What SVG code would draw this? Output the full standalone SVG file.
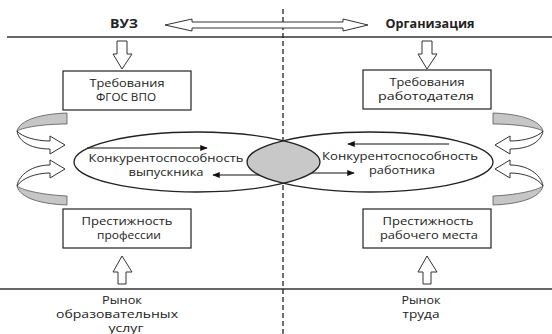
<svg xmlns="http://www.w3.org/2000/svg" width="552" height="334" viewBox="0 0 552 334">
<style>
text{font-family:"Open Sans","Noto Sans","DejaVu Sans",sans-serif;fill:#222;text-anchor:middle}
.t{font-size:11.5px}
.b{font-size:11.5px;font-weight:bold}
.box{fill:#fff;stroke:#222;stroke-width:1.2}
.ln{stroke:#333;stroke-width:1.4;fill:none}
.blk{fill:#fff;stroke:#333;stroke-width:1}
.gray{fill:#c6c6c6;stroke:#555;stroke-width:0.8}
.ar{stroke:#111;stroke-width:1.1;fill:none}
</style>
<defs>
<marker id="ah" viewBox="0 0 10 8" refX="9" refY="4" markerWidth="8" markerHeight="6" markerUnits="userSpaceOnUse" orient="auto">
<path d="M0,0 L10,4 L0,8 Z" fill="#111"/>
</marker>
<clipPath id="clipL"><ellipse cx="197" cy="162" rx="123" ry="30"/></clipPath>
<g id="curlPair">
<path class="gray" d="M67,113 C40,114 20,120 17,131 C24,127 45,124 67,124 Z"/>
<path class="blk" d="M17,131 C19,143 33,149 50,149 L50,154 L65,145 L50,136 L50,141 C36,141 22,137 17,131 Z"/>
<path class="gray" d="M67,205 C40,204 20,198 17,186 C24,191 45,195 67,196 Z"/>
<path class="blk" d="M17,186 C19,174 33,165 50,165 L50,160 L65,169 L50,178 L50,173 C36,173 22,178 17,186 Z"/>
</g>
</defs>
<g id="connectors">
<line class="ln" x1="7" y1="37" x2="552" y2="37"/>
<line class="ln" x1="0" y1="289" x2="552" y2="289"/>
<line x1="283" y1="9" x2="283" y2="334" stroke="#222" stroke-width="1.3" stroke-dasharray="5,3"/>
<path class="blk" d="M165,25 L192,19 L192,22 L343,22 L343,19 L368,25 L343,31 L343,28 L192,28 L192,31 Z"/>
<path class="blk" d="M117,41 L127,41 L127,54 L132,54 L122,69 L113,54 L117,54 Z"/>
<path class="blk" d="M422,41 L432,41 L432,54 L437,54 L427,69 L418,54 L422,54 Z"/>
<path class="blk" d="M118,284 L126,284 L126,272 L132,272 L122,256 L113,272 L118,272 Z"/>
<path class="blk" d="M423,284 L431,284 L431,272 L437,272 L427,256 L418,272 L423,272 Z"/>
<use href="#curlPair"/>
<use href="#curlPair" transform="translate(560,0) scale(-1,1)"/>
<line class="ar" x1="87" y1="148" x2="207" y2="148" marker-end="url(#ah)"/>
<line class="ar" x1="449" y1="144" x2="348" y2="144" marker-end="url(#ah)"/>
<line class="ar" x1="283" y1="175" x2="213" y2="175" marker-end="url(#ah)"/>
<line class="ar" x1="283" y1="173" x2="354" y2="173" marker-end="url(#ah)"/>
</g>
<g id="lens">
<ellipse cx="370" cy="162" rx="123" ry="30" clip-path="url(#clipL)" fill="#c8c8c8"/>
</g>
<g id="ellipseLeft">
<ellipse cx="197" cy="162" rx="123" ry="30" fill="none" stroke="#222" stroke-width="1.3"/>
<text class="t" x="166" y="162" textLength="155" lengthAdjust="spacingAndGlyphs">Конкурентоспособность</text>
<text class="t" x="166" y="176" textLength="75" lengthAdjust="spacingAndGlyphs">выпускника</text>
</g>
<g id="ellipseRight">
<ellipse cx="370" cy="162" rx="123" ry="30" fill="none" stroke="#222" stroke-width="1.3"/>
<text class="t" x="400" y="160" textLength="156" lengthAdjust="spacingAndGlyphs">Конкурентоспособность</text>
<text class="t" x="402" y="174" textLength="66" lengthAdjust="spacingAndGlyphs">работника</text>
</g>
<g id="vuz"><text class="b" x="124" y="28" textLength="28" lengthAdjust="spacingAndGlyphs">ВУЗ</text></g>
<g id="org"><text class="b" x="430" y="28" textLength="89" lengthAdjust="spacingAndGlyphs">Организация</text></g>
<g id="boxFGOS">
<rect class="box" x="63" y="71" width="128" height="39"/>
<text class="t" x="127" y="87" textLength="75" lengthAdjust="spacingAndGlyphs">Требования</text>
<text class="t" x="126" y="101" textLength="60" lengthAdjust="spacingAndGlyphs">ФГОС ВПО</text>
</g>
<g id="boxEmployer">
<rect class="box" x="363" y="70" width="128" height="39"/>
<text class="t" x="427" y="86" textLength="75" lengthAdjust="spacingAndGlyphs">Требования</text>
<text class="t" x="426" y="100" textLength="96" lengthAdjust="spacingAndGlyphs">работодателя</text>
</g>
<g id="boxProf">
<rect class="box" x="63" y="209" width="128" height="39"/>
<text class="t" x="127" y="225" textLength="91" lengthAdjust="spacingAndGlyphs">Престижность</text>
<text class="t" x="129" y="239" textLength="64" lengthAdjust="spacingAndGlyphs">профессии</text>
</g>
<g id="boxWork">
<rect class="box" x="363" y="209" width="128" height="39"/>
<text class="t" x="428" y="225" textLength="91" lengthAdjust="spacingAndGlyphs">Престижность</text>
<text class="t" x="429" y="239" textLength="98" lengthAdjust="spacingAndGlyphs">рабочего места</text>
</g>
<g id="marketEdu">
<text class="t" x="122" y="304" textLength="40" lengthAdjust="spacingAndGlyphs">Рынок</text>
<text class="t" x="117" y="318" textLength="122" lengthAdjust="spacingAndGlyphs">образовательных</text>
<text class="t" x="126" y="332" textLength="35" lengthAdjust="spacingAndGlyphs">услуг</text>
</g>
<g id="marketLabor">
<text class="t" x="421" y="304" textLength="39" lengthAdjust="spacingAndGlyphs">Рынок</text>
<text class="t" x="421" y="318" textLength="37" lengthAdjust="spacingAndGlyphs">труда</text>
</g>
</svg>
